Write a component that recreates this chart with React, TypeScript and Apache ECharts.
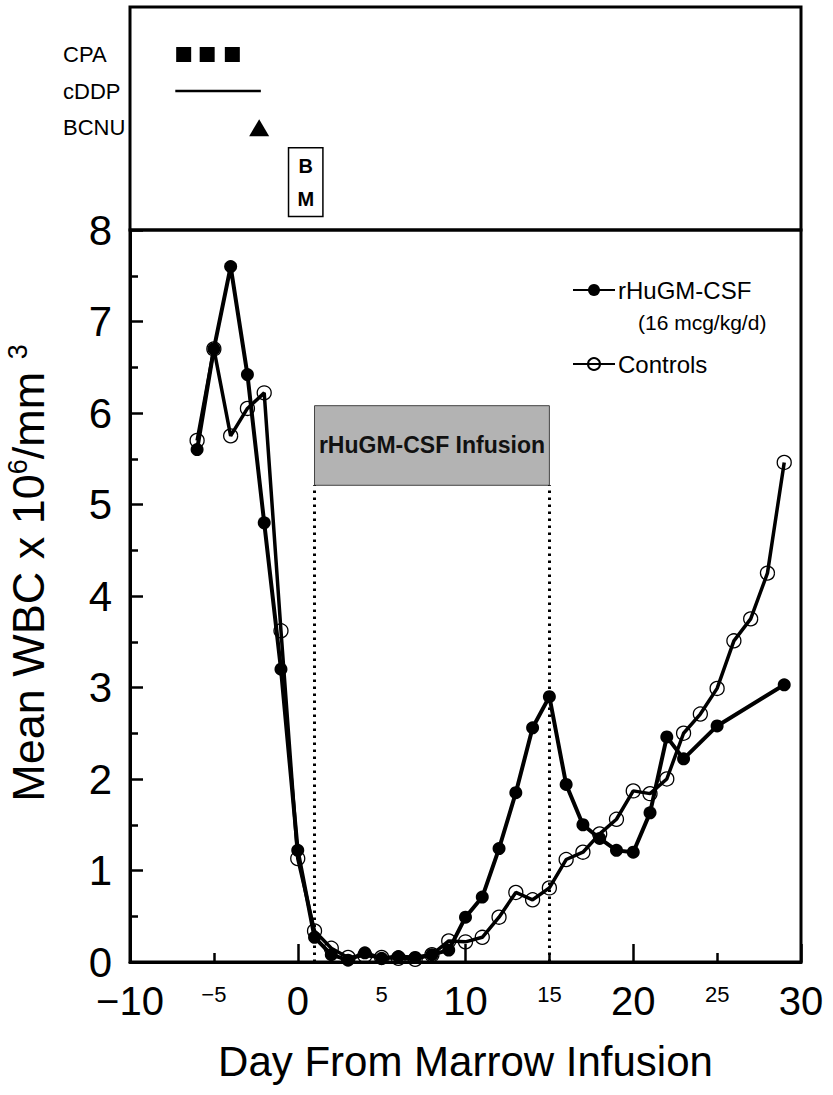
import React, { useEffect, useRef } from "react";
import * as echarts from "echarts";

const FONT = "'Liberation Sans', Arial, Helvetica, sans-serif";

// Main panel data: day from marrow infusion vs mean WBC (x10^6/mm^3)
const gmDays = [-6, -5, -4, -3, -2, -1, 0, 1, 2, 3, 4, 5, 6, 7, 8, 9, 10, 11, 12, 13, 14, 15, 16, 17, 18, 19, 20, 21, 22, 23, 25, 29];
const gmWBC = [5.6, 6.7, 7.6, 6.42, 4.8, 3.2, 1.22, 0.27, 0.08, 0.02, 0.1, 0.04, 0.06, 0.05, 0.08, 0.13, 0.49, 0.71, 1.24, 1.85, 2.56, 2.9, 1.94, 1.5, 1.35, 1.22, 1.2, 1.63, 2.46, 2.22, 2.58, 3.03];

const ctrlDays = [-6, -5, -4, -3, -2, -1, 0, 1, 2, 3, 4, 5, 6, 7, 8, 9, 10, 11, 12, 13, 14, 15, 16, 17, 18, 19, 20, 21, 22, 23, 24, 25, 26, 27, 28, 29];
const ctrlWBC = [5.7, 6.7, 5.75, 6.05, 6.22, 3.62, 1.13, 0.34, 0.15, 0.05, 0.07, 0.05, 0.04, 0.03, 0.08, 0.23, 0.22, 0.27, 0.49, 0.76, 0.68, 0.81, 1.12, 1.2, 1.4, 1.56, 1.87, 1.84, 2.0, 2.5, 2.71, 2.99, 3.51, 3.75, 4.25, 5.46];

const xTickLabels = [-10, -5, 0, 5, 10, 15, 20, 25, 30];
const xMajorTicks = [-10, 0, 10, 20, 30];

// Infusion period annotation
const infusionDays = [1, 15];
const infusionBoxWBC = [5.21, 6.08];

// Top panel: treatment schedule (rows 1..3)
const rowNames = ["CPA", "cDDP", "BCNU"];
const rowValues = [1, 2, 3];
const cpaDays = [-6.8, -5.4, -3.9];
const cddpSpan = [-7.3, -2.2];
const bcnuDays = [-2.3];
const bmSpan = [-0.55, 1.5];
const bmRows = [3.55, 5.43];

const fmtNum = (v: number) => (v < 0 ? "\u2212" : "") + Math.abs(v);

export default function App() {
  const ref = useRef<HTMLDivElement>(null);
  useEffect(() => {
    document.body.style.margin = "0";
    const chart = echarts.init(ref.current!, undefined, { renderer: "svg" });
    const black = "#000";
    const option: any = {
      animation: false,
      backgroundColor: "#fff",
      textStyle: { fontFamily: FONT, color: black },
      grid: [
        { left: 130, right: 32, top: 230, bottom: 133, show: true, borderColor: black, borderWidth: 3, backgroundColor: "transparent", outerBoundsMode: "none" },
        { left: 130, right: 32, top: 7, height: 223, show: true, borderColor: black, borderWidth: 3, backgroundColor: "transparent", outerBoundsMode: "none" },
      ],
      legend: {
        data: ["rHuGM-CSF", "Controls"],
        orient: "vertical",
        left: 572,
        top: 278,
        padding: 0,
        itemWidth: 42,
        itemHeight: 15,
        itemGap: 50,
        selectedMode: false,
        textStyle: { fontFamily: FONT, fontSize: 24, color: black, padding: [0, 0, 0, -2] },
      },
      xAxis: [
        {
          gridIndex: 0,
          type: "value",
          min: -10,
          max: 30,
          interval: 10,
          axisLine: { show: true, onZero: false, lineStyle: { color: black, width: 3 } },
          axisTick: { show: true, inside: true, length: 18, customValues: xMajorTicks, lineStyle: { color: black, width: 2.5 } },
          minorTick: { show: true, splitNumber: 2, length: 9, lineStyle: { color: black, width: 2.5 } },
          splitLine: { show: false },
          minorSplitLine: { show: false },
          axisLabel: {
            customValues: xTickLabels,
            margin: 23,
            color: black,
            formatter: (v: number) => (Math.abs(v) % 10 === 0 ? `{b|${fmtNum(v)}}` : `{s|${fmtNum(v)}}`),
            rich: {
              b: { fontSize: 40, lineHeight: 32, fontFamily: FONT, color: black },
              s: { fontSize: 22, lineHeight: 18, fontFamily: FONT, color: black },
            },
          },
          name: "Day From Marrow Infusion",
          nameLocation: "middle",
          nameGap: 78,
          nameTextStyle: { fontSize: 42, fontFamily: FONT, color: black },
        },
        {
          gridIndex: 1,
          type: "value",
          min: -10,
          max: 30,
          show: false,
          splitLine: { show: false },
        },
      ],
      yAxis: [
        {
          gridIndex: 0,
          type: "value",
          min: 0,
          max: 8,
          interval: 1,
          axisLine: { show: true, onZero: false, lineStyle: { color: black, width: 3 } },
          axisTick: { show: true, inside: true, length: 13, lineStyle: { color: black, width: 2.5 } },
          minorTick: { show: true, splitNumber: 2, length: 8, lineStyle: { color: black, width: 2.5 } },
          splitLine: { show: false },
          minorSplitLine: { show: false },
          axisLabel: { fontSize: 42, margin: 18, color: black, fontFamily: FONT },
        },
        {
          gridIndex: 1,
          type: "value",
          min: -0.3,
          max: 5.8,
          inverse: true,
          axisLine: { show: false, onZero: false },
          axisTick: { show: false },
          splitLine: { show: false },
          axisLabel: {
            customValues: rowValues,
            formatter: (v: number) => rowNames[rowValues.indexOf(v)] ?? "",
            align: "left",
            margin: 67,
            fontSize: 22,
            color: black,
            fontFamily: FONT,
          },
        },
      ],
      graphic: [
        {
          type: "text",
          x: 28,
          y: 573,
          rotation: Math.PI / 2,
          style: {
            text: "{m|Mean WBC x 10}{s|6}{m|/mm }{s|3}",
            align: "center",
            verticalAlign: "middle",
            rich: {
              m: { fontSize: 45, fontFamily: FONT, fill: black, lineHeight: 48 },
              s: { fontSize: 27, fontFamily: FONT, fill: black, verticalAlign: "top" },
            },
          },
        },
        {
          type: "text",
          left: 638,
          top: 312,
          style: { text: "(16 mcg/kg/d)", fontSize: 21, fontFamily: FONT, fill: black },
        },
      ],
      series: [
        {
          name: "Controls",
          type: "line",
          xAxisIndex: 0,
          yAxisIndex: 0,
          data: ctrlDays.map((d, i) => [d, ctrlWBC[i]]),
          symbol: "circle",
          symbolSize: 14,
          itemStyle: { color: "rgba(255,255,255,0)", borderColor: black, borderWidth: 1.3 },
          lineStyle: { color: black, width: 3.5 },
          z: 2,
          silent: true,
        },
        {
          name: "rHuGM-CSF",
          type: "line",
          xAxisIndex: 0,
          yAxisIndex: 0,
          data: gmDays.map((d, i) => [d, gmWBC[i]]),
          symbol: "circle",
          symbolSize: 13,
          itemStyle: { color: black },
          lineStyle: { color: black, width: 4 },
          z: 3,
          silent: true,
          markArea: {
            silent: true,
            itemStyle: { color: "#b3b3b3", borderColor: "#444", borderWidth: 1 },
            label: {
              show: true,
              position: "inside",
              fontSize: 23,
              fontWeight: "bold",
              fontFamily: FONT,
              color: "#111",
            },
            data: [
              [
                { name: "rHuGM-CSF Infusion", coord: [infusionDays[0], infusionBoxWBC[1]] },
                { coord: [infusionDays[1], infusionBoxWBC[0]] },
              ],
            ],
          },
          markLine: {
            silent: true,
            symbol: ["none", "none"],
            label: { show: false },
            lineStyle: { color: black, width: 3, type: [2.5, 4.5] },
            data: infusionDays.map((d) => [{ coord: [d, 0] }, { coord: [d, infusionBoxWBC[0]] }]),
          },
        },
        {
          name: "CPA",
          type: "scatter",
          xAxisIndex: 1,
          yAxisIndex: 1,
          symbol: "rect",
          symbolSize: 15,
          itemStyle: { color: black, opacity: 1 },
          data: cpaDays.map((d) => [d, rowValues[0]]),
          silent: true,
        },
        {
          name: "cDDP",
          type: "line",
          xAxisIndex: 1,
          yAxisIndex: 1,
          symbol: "none",
          lineStyle: { color: black, width: 2.5 },
          data: cddpSpan.map((d) => [d, rowValues[1]]),
          silent: true,
          markArea: {
            silent: true,
            itemStyle: { color: "#fff", borderColor: black, borderWidth: 1.5 },
            label: {
              show: true,
              position: "inside",
              fontSize: 20,
              fontWeight: "bold",
              lineHeight: 33,
              fontFamily: FONT,
              color: black,
            },
            data: [[{ name: "B\nM", coord: [bmSpan[0], bmRows[0]] }, { coord: [bmSpan[1], bmRows[1]] }]],
          },
        },
        {
          name: "BCNU",
          type: "scatter",
          xAxisIndex: 1,
          yAxisIndex: 1,
          symbol: "triangle",
          symbolSize: [20, 17],
          itemStyle: { color: black, opacity: 1 },
          data: bcnuDays.map((d) => [d, rowValues[2]]),
          silent: true,
        },
      ],
    };
    chart.setOption(option);
    return () => chart.dispose();
  }, []);
  return <div ref={ref} style={{ width: 833, height: 1095 }} />;
}
